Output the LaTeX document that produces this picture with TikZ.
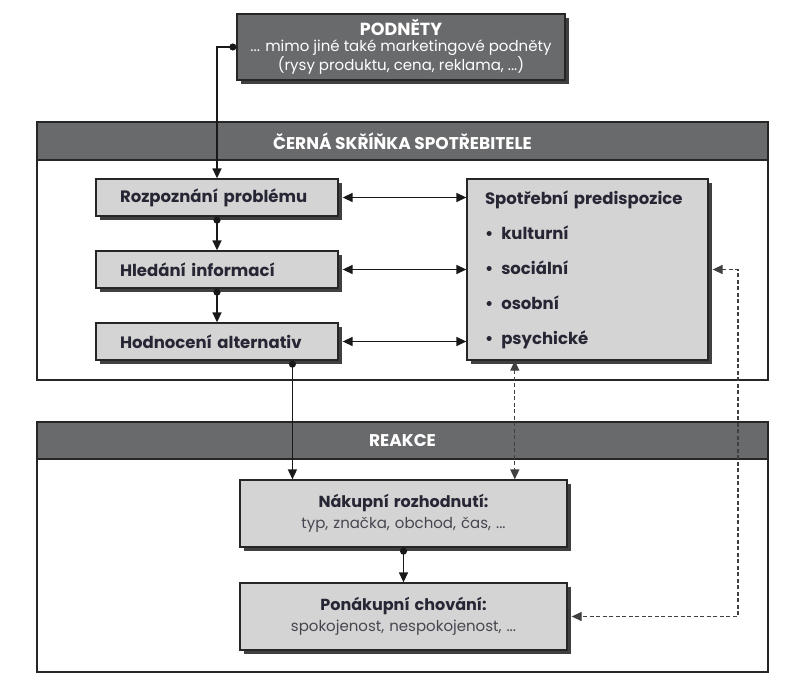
\documentclass[tikz,border=0pt]{standalone}
\usepackage{fontspec}
\setmainfont{Poppins}
\usetikzlibrary{arrows.meta,shadows,calc}
\definecolor{hdr}{RGB}{105,106,108}
\definecolor{boxfill}{RGB}{212,212,212}
\definecolor{txt}{RGB}{38,38,52}
\definecolor{subtxt}{RGB}{70,70,80}
\begin{document}
\begin{tikzpicture}[x=1pt,y=-1pt,
  shad/.style={drop shadow={shadow xshift=4pt,shadow yshift=-4pt,fill=black!75,opacity=1}},
  frame/.style={draw=black!85,line width=1.5pt,fill=white,minimum width=731pt,inner sep=0pt},
  header/.style={draw=black!85,line width=1.5pt,fill=hdr,text=white,minimum width=731pt,inner sep=0pt,
    font=\bfseries\fontsize{17}{19}\selectfont},
  podbox/.style={draw=black!85,line width=1.3pt,fill=hdr,text=white,shad,minimum width=328pt,minimum height=66pt,
    inner sep=0pt,align=center,font=\fontsize{15}{15.5}\selectfont},
  stepbox/.style={draw=black!85,line width=1.3pt,fill=boxfill,shad,inner ysep=0pt,inner xsep=24pt,
    text width=194pt,minimum height=37pt,align=left,text=txt,font=\bfseries\fontsize{16.5}{18}\selectfont},
  spotbox/.style={draw=black!85,line width=1.3pt,fill=boxfill,shad,inner ysep=0pt,inner xsep=18pt,
    text width=205pt,minimum height=181pt,align=left,text=txt,font=\bfseries\fontsize{16.5}{18}\selectfont},
  reactbox/.style={draw=black!85,line width=1.3pt,fill=boxfill,shad,inner sep=0pt,
    text width=327pt,minimum height=67pt,align=center,text=txt,font=\fontsize{15}{21.5}\selectfont},
  tip/.tip={Triangle[length=10pt,width=9pt]},
  dot/.tip={Circle[length=7pt]},
  dotarr/.style={line width=1.4pt,draw=black!90,dot-tip},
  dbl/.style={line width=1.4pt,draw=black!90,tip-tip},
  dsh/.style={line width=1.3pt,draw=black!75,dash pattern=on 4pt off 2.5pt,tip-tip}
]
\useasboundingbox (0,0) rectangle (787,682);
% frames
\node[frame,minimum height=258pt] (cb) at (402.5,251) {};
\node[header,minimum height=38pt] (cbh) at (402.5,141) {ČERNÁ SKŘÍŇKA SPOTŘEBITELE};
\node[frame,minimum height=250pt] (re) at (402.5,547) {};
\node[header,minimum height=37pt] (reh) at (402.5,440.5) {REAKCE};
% stimuli
\node[podbox] (pod) at (401,47) {{\bfseries\fontsize{17.5}{15.5}\selectfont PODNĚTY}\\... mimo jiné také marketingové podněty\\(rysy produktu, cena, reklama, ...)};
% steps
\node[stepbox] (rozp) at (217,197.5) {Rozpoznání problému};
\node[stepbox] (hled) at (217,269.5) {Hledání informací};
\node[stepbox] (hod) at (217,341.5) {Hodnocení alternativ};
\node[spotbox] (spot) at (587.5,269.5) {Spotřební predispozice\\[16.7pt]
  •\hspace{8pt}kulturní\\[16.7pt]•\hspace{8pt}sociální\\[16.7pt]•\hspace{8pt}osobní\\[16.7pt]•\hspace{8pt}psychické};
\node[reactbox] (nak) at (403.5,513.5) {{\bfseries\fontsize{16}{21.5}\selectfont Nákupní rozhodnutí:}\\{\color{subtxt}typ, značka, obchod, čas, ...}};
\node[reactbox] (pon) at (403.5,616.5) {{\bfseries\fontsize{16}{21.5}\selectfont Ponákupní chování:}\\{\color{subtxt}spokojenost, nespokojenost, ...}};
% connectors
\draw[dotarr] (pod.west) -| (rozp.north);
\draw[dotarr] (rozp.south) -- (hled.north);
\draw[dotarr] (hled.south) -- (hod.north);
\coordinate (hodout) at ($(hod.south west)!0.81!(hod.south east)$);
\draw[dotarr] (hodout) -- (hodout |- nak.north);
\draw[dotarr] (nak.south) -- (pon.north);
\draw[dbl] ([xshift=4pt]rozp.east) -- (rozp.east -| spot.west);
\draw[dbl] ([xshift=4pt]hled.east) -- (hled.east -| spot.west);
\draw[dbl] ([xshift=4pt]hod.east) -- (hod.east -| spot.west);
\coordinate (spotb) at ($(spot.south west)!0.2!(spot.south east)$);
\draw[dsh] (spotb) -- (spotb |- nak.north);
\coordinate (rt) at (738,0);
\draw[dsh] ([xshift=4pt]spot.east) -- (rt |- spot.east) |- ([xshift=4pt]pon.east);
\end{tikzpicture}
\end{document}
